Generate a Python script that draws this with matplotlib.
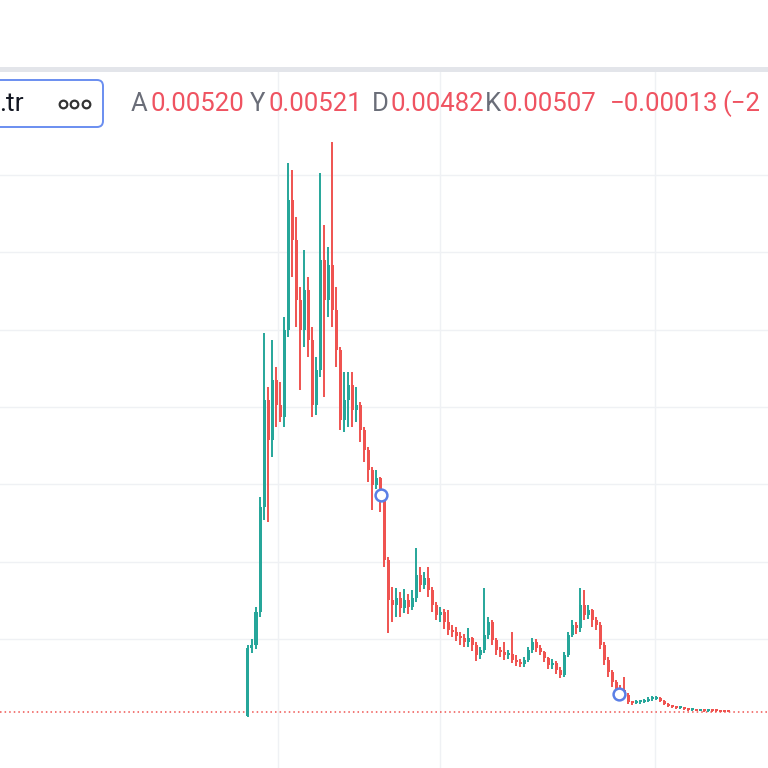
"""TradingView-style candlestick snapshot with OHLC header."""

import numpy as np
import matplotlib
matplotlib.use("Agg")
import matplotlib.pyplot as plt
from matplotlib.patches import FancyBboxPatch, Rectangle

# ---- data -----------------------------------------------------------------
first_open = 0.001
close = [0.069, 0.072, 0.105, 0.210, 0.317, 0.277, 0.337, 0.312, 0.300, 0.387,
         0.517, 0.477, 0.417, 0.387, 0.427, 0.377, 0.312, 0.347, 0.457, 0.417,
         0.452, 0.407, 0.367, 0.297, 0.317, 0.332, 0.307, 0.312, 0.287, 0.267,
         0.247, 0.232, 0.239, 0.217, 0.157, 0.117, 0.112, 0.119, 0.109, 0.117,
         0.110, 0.119, 0.142, 0.132, 0.139, 0.127, 0.112, 0.102, 0.105, 0.095,
         0.087, 0.085, 0.081, 0.079, 0.075, 0.079, 0.072, 0.062, 0.067, 0.082,
         0.095, 0.077, 0.067, 0.065, 0.062, 0.063, 0.057, 0.055, 0.053, 0.057,
         0.067, 0.075, 0.069, 0.065, 0.059, 0.052, 0.054, 0.047, 0.042, 0.062,
         0.082, 0.092, 0.089, 0.112, 0.102, 0.107, 0.097, 0.092, 0.072, 0.057,
         0.045, 0.035, 0.029, 0.027, 0.022, 0.015, 0.014, 0.015, 0.015, 0.016,
         0.018, 0.018, 0.019, 0.016, 0.013, 0.011, 0.010, 0.009, 0.009, 0.008,
         0.0070, 0.0072, 0.0062, 0.0063, 0.0059, 0.0062, 0.0057, 0.0056, 0.0054,
         0.0052, 0.00507]
high = [0.072, 0.078, 0.110, 0.220, 0.384, 0.330, 0.377, 0.350, 0.335, 0.400,
        0.554, 0.547, 0.500, 0.430, 0.467, 0.440, 0.390, 0.360, 0.544, 0.492,
        0.470, 0.575, 0.430, 0.370, 0.345, 0.345, 0.345, 0.330, 0.315, 0.290,
        0.270, 0.250, 0.247, 0.240, 0.215, 0.160, 0.130, 0.129, 0.125, 0.128,
        0.123, 0.127, 0.169, 0.150, 0.145, 0.150, 0.130, 0.115, 0.110, 0.108,
        0.107, 0.092, 0.090, 0.085, 0.083, 0.089, 0.080, 0.075, 0.070, 0.129,
        0.100, 0.097, 0.079, 0.070, 0.075, 0.067, 0.085, 0.062, 0.058, 0.060,
        0.070, 0.079, 0.078, 0.072, 0.066, 0.060, 0.058, 0.056, 0.050, 0.065,
        0.085, 0.097, 0.095, 0.129, 0.127, 0.112, 0.108, 0.100, 0.095, 0.075,
        0.060, 0.047, 0.037, 0.032, 0.040, 0.024, 0.016, 0.017, 0.017, 0.018,
        0.020, 0.021, 0.021, 0.020, 0.017, 0.014, 0.012, 0.011, 0.010, 0.010,
        0.0090, 0.0085, 0.0078, 0.0072, 0.0068, 0.0066, 0.0064, 0.0060, 0.0058,
        0.0056, 0.00521]
low = [0.000, 0.064, 0.068, 0.100, 0.197, 0.195, 0.260, 0.290, 0.295, 0.290,
       0.380, 0.440, 0.390, 0.327, 0.370, 0.360, 0.300, 0.302, 0.340, 0.320,
       0.400, 0.390, 0.350, 0.287, 0.285, 0.290, 0.290, 0.295, 0.275, 0.255,
       0.235, 0.207, 0.228, 0.205, 0.150, 0.084, 0.095, 0.100, 0.100, 0.104,
       0.103, 0.107, 0.115, 0.125, 0.128, 0.120, 0.105, 0.097, 0.095, 0.088,
       0.082, 0.080, 0.076, 0.072, 0.070, 0.070, 0.066, 0.056, 0.058, 0.064,
       0.078, 0.072, 0.062, 0.060, 0.057, 0.058, 0.054, 0.051, 0.050, 0.050,
       0.055, 0.064, 0.065, 0.062, 0.055, 0.048, 0.048, 0.043, 0.039, 0.040,
       0.060, 0.080, 0.083, 0.085, 0.097, 0.098, 0.090, 0.087, 0.068, 0.052,
       0.040, 0.030, 0.025, 0.023, 0.020, 0.013, 0.012, 0.013, 0.013, 0.014,
       0.015, 0.016, 0.017, 0.015, 0.012, 0.010, 0.009, 0.008, 0.008, 0.007,
       0.0065, 0.0065, 0.0058, 0.0058, 0.0055, 0.0054, 0.0053, 0.0052, 0.0050,
       0.0049, 0.00482]

# alert markers (candle index, price)
marker_idx = [33.25, 92.75]
marker_price = [0.222, 0.023]

last_price = 0.00507

# grid levels (no labels shown in the crop)
grid_x = [7.5, 48, 101.75]
grid_y = [0.078, 0.155, 0.233, 0.310, 0.387, 0.465, 0.542]

# header legend: (text, colour)
header = [("A", "gray"), ("0.00520", "red"), ("Y", "gray"), ("0.00521", "red"),
          ("D", "gray"), ("0.00482", "red"), ("K", "gray"), ("0.00507", "red"),
          ("\u22120.00013", "red"), ("(\u22122", "red")]
header_x = [131, 150, 250, 268, 372, 391, 485, 503, 610, 722]

# ---- style ----------------------------------------------------------------
UP = "#26a69a"
DOWN = "#ef5350"
GRID = "#eff1f4"
TXT_GRAY = "#6a6d78"
TXT_RED = "#ef5361"
FONT = ["Roboto", "DejaVu Sans"]

W = H = 768
TOP = 72           # px, top of the chart pane
X0, DX = 248, 4    # px of candle 0, px per candle
Y0, DY = 717, 1000  # px of price 0, px per unit price


def px_to_idx(px):
    return (px - X0) / DX


def px_to_price(py):
    return (Y0 - py) / DY


fig = plt.figure(figsize=(W / 100, H / 100), dpi=100)
fig.patch.set_facecolor("white")

ax = fig.add_axes([0, 0, 1, (H - TOP) / H])
ax.set_xlim(px_to_idx(0), px_to_idx(W))
ax.set_ylim(px_to_price(H), px_to_price(TOP))
for s in ax.spines.values():
    s.set_visible(False)
ax.set_xticks(grid_x)
ax.set_yticks(grid_y)
ax.tick_params(length=0, labelbottom=False, labelleft=False)
ax.grid(True, color=GRID, linewidth=1.0)
ax.set_axisbelow(True)

o = np.array([first_open] + close[:-1])
c = np.array(close)
hi = np.array(high)
lo = np.array(low)
idx = np.arange(len(c))
cols = np.where(c >= o, UP, DOWN)

ax.vlines(idx, lo, hi, colors=cols, linewidth=1.4, zorder=2)
body_h = np.maximum(np.abs(c - o), 0.002)
ax.bar(idx, body_h, bottom=np.minimum(o, c), width=0.75, color=cols,
       linewidth=0, zorder=3)

ax.axhline(last_price, color=DOWN, linewidth=1.1, linestyle=(0, (1, 2)),
           zorder=1)

ax.plot(marker_idx, marker_price, linestyle="none", marker="o", ms=8.5,
        mfc="white", mec="#5a7fe6", mew=1.8, zorder=5)

# ---- UI overlay (pixel coordinates) --------------------------------------
ui = fig.add_axes([0, 0, 1, 1], zorder=10)
ui.set_xlim(0, W)
ui.set_ylim(H, 0)
ui.axis("off")
ui.patch.set_alpha(0)

ui.add_patch(Rectangle((0, 67), W, 5, color="#e3e5ea", linewidth=0))

ui.add_patch(FancyBboxPatch((-20, 80), 123, 47,
                            boxstyle="round,pad=0,rounding_size=6",
                            facecolor="white", edgecolor="#6a8ef0",
                            linewidth=1.4))
ui.text(-1, 104, ".tr", family=FONT, fontsize=19, color="#131722",
        ha="left", va="center")
ui.plot([62.5, 74, 86], [104, 104, 104], linestyle="none", marker="o",
        ms=5.5, mfc="white", mec="#333333", mew=1.6)

for (label, kind), xpos in zip(header, header_x):
    ui.text(xpos, 104, label, family=FONT, fontsize=18.5,
            color=TXT_GRAY if kind == "gray" else TXT_RED,
            ha="left", va="center")

fig.savefig("out.png", dpi=100, facecolor="white")
